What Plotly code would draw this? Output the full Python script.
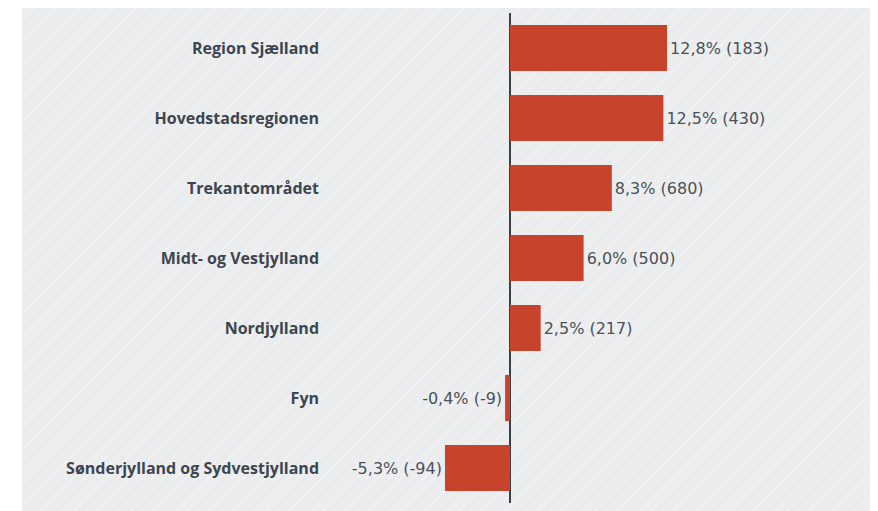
import base64
import plotly.graph_objects as go

categories = ["Region Sjælland", "Hovedstadsregionen", "Trekantområdet",
              "Midt- og Vestjylland", "Nordjylland", "Fyn",
              "Sønderjylland og Sydvestjylland"]
pct_values = [12.8, 12.5, 8.3, 6.0, 2.5, -0.4, -5.3]
counts = [183, 430, 680, 500, 217, -9, -94]

labels = [f"{v:.1f}".replace(".", ",") + f"% ({c})" for v, c in zip(pct_values, counts)]

W, H = 878, 511
L, R, T, B = 322, 0, 5, 16
pw, ph = W - L - R, H - T - B
ZERO_PX = 502

svg = (
    '<svg xmlns="http://www.w3.org/2000/svg" width="864" height="511">'
    '<defs><pattern id="p" width="8" height="8" patternUnits="userSpaceOnUse" '
    'patternTransform="rotate(45)">'
    '<rect width="8" height="8" fill="#ebecee"/>'
    '<line x1="0" y1="0" x2="0" y2="8" stroke="#f7f7f8" stroke-width="1.6"/>'
    '</pattern></defs>'
    '<rect width="864" height="511" fill="url(#p)"/></svg>'
)
src = "data:image/svg+xml;base64," + base64.b64encode(svg.encode()).decode()

fig = go.Figure(go.Bar(
    x=pct_values, y=categories, orientation="h",
    marker=dict(color="#c8432c", line=dict(width=0)),
    width=0.66,
    text=labels, textposition="outside", cliponaxis=False,
    textfont=dict(family="DejaVu Sans", size=16, color="#4a5159"),
))

px_per_unit = 12.27
fig.update_layout(
    width=W, height=H,
    margin=dict(l=L, r=R, t=T, b=B),
    paper_bgcolor="white", plot_bgcolor="rgba(0,0,0,0)",
    showlegend=False,
    xaxis=dict(range=[-(ZERO_PX - L) / px_per_unit, (W - R - ZERO_PX) / px_per_unit],
               showgrid=False, showticklabels=False, zeroline=True,
               zerolinecolor="#3b4148", zerolinewidth=2, fixedrange=True),
    yaxis=dict(categoryorder="array", categoryarray=categories, autorange="reversed",
               showgrid=False, ticks="", ticklabelstandoff=10,
               tickfont=dict(family="Open Sans", size=16, color="#3d4650", weight="bold")),
    images=[dict(source=src, xref="paper", yref="paper",
                 x=(14 - L) / pw, y=(H - B) / ph,
                 sizex=864 / pw, sizey=511 / ph,
                 xanchor="left", yanchor="top", sizing="stretch", layer="below")],
)

fig.write_html("out.html")
